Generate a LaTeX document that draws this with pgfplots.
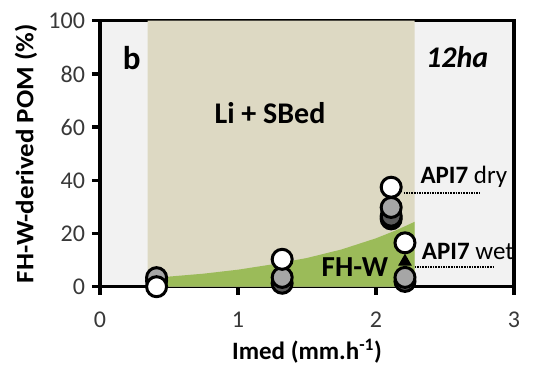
\documentclass[border=0pt]{standalone}
\usepackage{pgfplots}
\pgfplotsset{compat=1.18}
\usepackage{graphicx}
\usepackage{fontspec}
\setmainfont{Carlito}
\definecolor{bgout}{HTML}{F2F2F2}
\definecolor{beige}{HTML}{DDD9C3}
\definecolor{fhgreen}{HTML}{9BBB59}
\definecolor{midgray}{HTML}{A6A6A6}
\definecolor{darkgray}{HTML}{595959}
\begin{document}
\begin{tikzpicture}
\begin{axis}[
  scale only axis,
  width=414bp, height=266bp,
  xmin=0, xmax=3, ymin=0, ymax=100,
  xtick={0,1,2,3}, ytick={0,20,40,60,80,100},
  tick pos=left, tick align=outside,
  major tick length=8bp,
  every axis/.append style={line width=3.5bp},
  axis line style={line width=3.5bp},
  every tick/.style={line width=3.5bp, black},
  axis background/.style={fill=bgout},
  /pgf/number format/assume math mode=true,
  ticklabel style={font=\fontsize{24bp}{26bp}\selectfont, text=black!78},
  xticklabel style={yshift=-12bp},
  yticklabel style={xshift=-2bp},
  xlabel={\textbf{Imed (mm.h\textsuperscript{-1})}},
  ylabel={\scalebox{1.08}[1]{\textbf{FH-W-derived POM (\%)}}},
  label style={font=\fontsize{25bp}{27bp}\selectfont},
  xlabel style={yshift=-3bp},
  ylabel style={yshift=3bp},
  clip=false,
]
\addplot[fill=beige, draw=none] coordinates {(0.345,0)(0.345,100)(2.28,100)(2.28,0)} \closedcycle;
\addplot[fill=fhgreen, draw=none] coordinates {
 (0.345,3.2)(0.5,3.8)(0.75,4.9)(1.0,6.4)(1.25,8.4)(1.5,10.8)(1.75,14.0)(2.0,18.2)(2.15,21.3)(2.28,24.4)} |- (axis cs:0.345,0) -- cycle;
\addplot[densely dotted, line width=1.6bp] coordinates {(2.2,35.3)(2.75,35.3)};
\addplot[densely dotted, line width=1.6bp] coordinates {(2.28,7.5)(2.85,7.5)};
% dark gray points
\addplot[only marks, mark=*, mark size=10bp, line width=3bp, mark options={fill=darkgray, draw=black}] coordinates {
 (0.41,2.2)(1.32,1.3)(2.11,25.5)(2.11,26.5)(2.21,2.0)};
% gray points
\addplot[only marks, mark=*, mark size=10bp, line width=3bp, mark options={fill=midgray, draw=black}] coordinates {
 (0.41,3.4)(1.32,3.5)(2.11,29.8)(2.21,3.5)};
% white points
\addplot[only marks, mark=*, mark size=10bp, line width=3bp, mark options={fill=white, draw=black}] coordinates {
 (0.41,0)(1.32,10.3)(2.11,37.4)(2.21,16.5)};
% triangle
\addplot[only marks, mark=triangle*, mark size=7bp, line width=1bp, mark options={fill=black, draw=black}] coordinates {(2.21,9.4)};
\node[font=\fontsize{33bp}{34bp}\selectfont\bfseries] at (axis cs:0.23,86) {b};
\node[font=\fontsize{30bp}{32bp}\selectfont\bfseries\itshape, anchor=east] at (axis cs:2.85,86.5) {12ha};
\node[font=\fontsize{30bp}{32bp}\selectfont\bfseries] at (axis cs:1.232,65.2) {Li + SBed};
\node[font=\fontsize{29bp}{30bp}\selectfont\bfseries, anchor=east, inner sep=0pt] at (axis cs:2.10,7.5) {FH-W};
\node[font=\fontsize{25bp}{27bp}\selectfont, anchor=west, inner sep=0pt] at (axis cs:2.31,41.4) {\textbf{API7} dry};
\node[font=\fontsize{25bp}{27bp}\selectfont, anchor=west, inner sep=0pt] at (axis cs:2.32,13.2) {\textbf{API7} wet};
\coordinate (BL) at (rel axis cs:0,0);
\coordinate (TR) at (rel axis cs:1,1);
\end{axis}
\pgfresetboundingbox
\path ([shift={(-100bp,-80.3bp)}]BL) rectangle ([shift={(21bp,20.7bp)}]TR);
\end{tikzpicture}
\end{document}
